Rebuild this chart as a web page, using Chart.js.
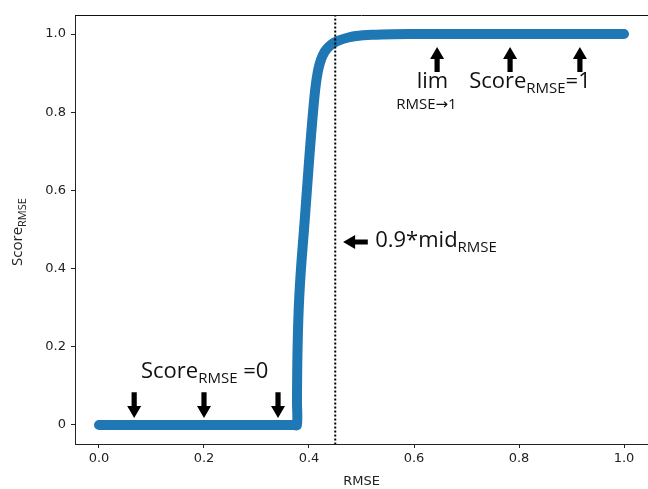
<!DOCTYPE html>
<html>
<head>
<meta charset="utf-8">
<script src="https://cdn.jsdelivr.net/npm/chart.js@4"></script>
<style>
html,body{margin:0;padding:0;background:#fff;}
#wrap{width:648px;height:489px;position:relative;}
</style>
</head>
<body>
<div id="wrap"><canvas id="c" width="648" height="489"></canvas></div>
<script>
// ---- data ----
const curveX = [0.0, 0.2, 0.3700, 0.3770, 0.3771, 0.3774, 0.3780, 0.3790, 0.3805, 0.3828, 0.3858, 0.3905, 0.3960, 0.4015, 0.4070, 0.4120, 0.4170, 0.4230, 0.4300, 0.4380, 0.4480, 0.4600, 0.4750, 0.4900, 0.5200, 0.5600, 0.6200, 0.8000, 1.0];
const curveY = [0.0, 0.0, 0.0,    0.0,    0.06,   0.12,   0.18,   0.24,   0.30,   0.36,   0.42,   0.50,   0.60,   0.70,   0.79,   0.86,   0.905,  0.935,  0.955,  0.968,  0.978,  0.985,  0.991,  0.995,  0.998,  0.9995, 1.0,    1.0,    1.0];
const xTicks = [0.0, 0.2, 0.4, 0.6, 0.8, 1.0];
const xTickLabels = ['0.0', '0.2', '0.4', '0.6', '0.8', '1.0'];
const yTicks = [0.0, 0.2, 0.4, 0.6, 0.8, 1.0];
const yTickLabels = ['0', '0.2', '0.4', '0.6', '0.8', '1.0'];
const midLineX = 0.45;                 // 0.9*mid_RMSE
const downArrowX = [0.067, 0.200, 0.341];
const downArrowTop = 0.084, downArrowTip = 0.018;
const upArrowX = [0.644, 0.783, 0.916];
const upArrowTail = 0.903, upArrowTip = 0.967;
const leftArrowY = 0.468, leftArrowTail = 0.512, leftArrowTip = 0.465;

const annFont = '"Open Sans", sans-serif';

function drawArrow(ctx, x0, y0, x1, y1) {
  const dx = x1 - x0, dy = y1 - y0;
  const L = Math.hypot(dx, dy);
  const ux = dx / L, uy = dy / L;
  const px = -uy, py = ux;
  const shaft = 2.6, head = 7, headLen = 12;
  const bx = x1 - ux * headLen, by = y1 - uy * headLen;
  ctx.beginPath();
  ctx.moveTo(x0 + px * shaft, y0 + py * shaft);
  ctx.lineTo(bx + px * shaft, by + py * shaft);
  ctx.lineTo(bx + px * head, by + py * head);
  ctx.lineTo(x1, y1);
  ctx.lineTo(bx - px * head, by - py * head);
  ctx.lineTo(bx - px * shaft, by - py * shaft);
  ctx.lineTo(x0 - px * shaft, y0 - py * shaft);
  ctx.closePath();
  ctx.fill();
}

function drawSubText(ctx, x, y, parts) {
  let cx = x;
  for (const p of parts) {
    ctx.font = p.size + 'px ' + (p.font || annFont);
    ctx.fillText(p.t, cx, y + (p.dy || 0));
    cx += ctx.measureText(p.t).width;
  }
}

const annotationPlugin = {
  id: 'ann',
  afterDatasetsDraw(chart) {
    const ctx = chart.ctx;
    const xs = chart.scales.x, ys = chart.scales.y;
    const X = v => xs.getPixelForValue(v), Y = v => ys.getPixelForValue(v);
    const ca = chart.chartArea;
    ctx.save();
    ctx.strokeStyle = '#111';
    ctx.lineWidth = 1;
    ctx.beginPath();
    ctx.moveTo(ca.left, Math.round(ca.top) + 0.5);
    ctx.lineTo(ca.right, Math.round(ca.top) + 0.5);
    ctx.stroke();

    ctx.fillStyle = '#000';
    for (const ax of downArrowX) drawArrow(ctx, X(ax), Y(downArrowTop), X(ax), Y(downArrowTip));
    for (const ax of upArrowX) drawArrow(ctx, X(ax), Y(upArrowTail), X(ax), Y(upArrowTip));
    drawArrow(ctx, X(leftArrowTail), Y(leftArrowY), X(leftArrowTip), Y(leftArrowY));

    ctx.fillStyle = '#111';
    ctx.textBaseline = 'alphabetic';
    ctx.textAlign = 'left';
    drawSubText(ctx, X(0.080), Y(0.120), [
      {t: 'Score', size: 22}, {t: 'RMSE', size: 15, dy: 5}, {t: ' =0', size: 22}
    ]);
    drawSubText(ctx, X(0.526), Y(0.455), [
      {t: '0.9*mid', size: 22}, {t: 'RMSE', size: 15, dy: 5}
    ]);
    drawSubText(ctx, X(0.605), Y(0.862), [{t: 'lim', size: 22}]);
    drawSubText(ctx, X(0.566), Y(0.862) + 21, [
      {t: 'RMSE', size: 15}, {t: '\u2192', size: 15, font: '"DejaVu Sans", sans-serif'}, {t: '1', size: 15}
    ]);
    drawSubText(ctx, X(0.705), Y(0.862), [
      {t: 'Score', size: 22}, {t: 'RMSE', size: 15, dy: 5}, {t: '=1', size: 22}
    ]);

    ctx.fillStyle = '#222';
    ctx.font = '13px "DejaVu Sans", sans-serif';
    ctx.textAlign = 'center';
    ctx.fillText('RMSE', (ca.left + ca.right) / 2, 485);
    ctx.save();
    ctx.translate(22, 232);
    ctx.rotate(-Math.PI / 2);
    ctx.textAlign = 'left';
    ctx.font = '15px ' + annFont;
    const w1 = ctx.measureText('Score').width;
    ctx.font = '11px ' + annFont;
    const w2 = ctx.measureText('RMSE').width;
    const sx = -(w1 + w2) / 2;
    ctx.font = '15px ' + annFont;
    ctx.fillText('Score', sx, 0);
    ctx.font = '11px ' + annFont;
    ctx.fillText('RMSE', sx + w1, 4);
    ctx.restore();
    ctx.restore();
  }
};

const curvePts = curveX.map((x, i) => ({x: x, y: curveY[i]}));

new Chart(document.getElementById('c'), {
  type: 'scatter',
  data: {
    datasets: [
      {
        data: curvePts,
        showLine: true,
        borderColor: '#1f77b4',
        backgroundColor: '#1f77b4',
        borderWidth: 10,
        borderCapStyle: 'round',
        borderJoinStyle: 'round',
        tension: 0.3,
        pointRadius: 0,
        order: 2
      },
      {
        data: [{x: midLineX, y: -0.05}, {x: midLineX, y: 1.05}],
        showLine: true,
        borderColor: '#000',
        borderWidth: 2,
        borderDash: [2, 2],
        pointRadius: 0,
        order: 1
      }
    ]
  },
  plugins: [annotationPlugin],
  options: {
    responsive: false,
    animation: false,
    devicePixelRatio: 1,
    layout: {padding: {top: 15, right: 0, left: 0, bottom: 0}},
    plugins: {legend: {display: false}, tooltip: {enabled: false}},
    scales: {
      x: {
        type: 'linear',
        min: -0.0457, max: 1.0457,
        afterBuildTicks: s => { s.ticks = xTicks.map(v => ({value: v})); },
        afterFit: s => { s.height = 45; },
        ticks: {
          callback: (v, i) => xTickLabels[i],
          font: {family: '"DejaVu Sans", sans-serif', size: 13},
          color: '#222',
          padding: 3,
          maxRotation: 0,
          autoSkip: false
        },
        grid: {drawOnChartArea: false, drawTicks: true, tickLength: 4, color: '#222'},
        border: {display: true, color: '#222', width: 1}
      },
      y: {
        type: 'linear',
        min: -0.0486, max: 1.0486,
        afterBuildTicks: s => { s.ticks = yTicks.map(v => ({value: v})); },
        afterFit: s => { s.width = 75; },
        ticks: {
          callback: (v, i) => yTickLabels[i],
          font: {family: '"DejaVu Sans", sans-serif', size: 13},
          color: '#222',
          padding: 5,
          autoSkip: false
        },
        grid: {drawOnChartArea: false, drawTicks: true, tickLength: 4, color: '#222'},
        border: {display: true, color: '#222', width: 1}
      }
    }
  }
});
</script>
</body>
</html>
